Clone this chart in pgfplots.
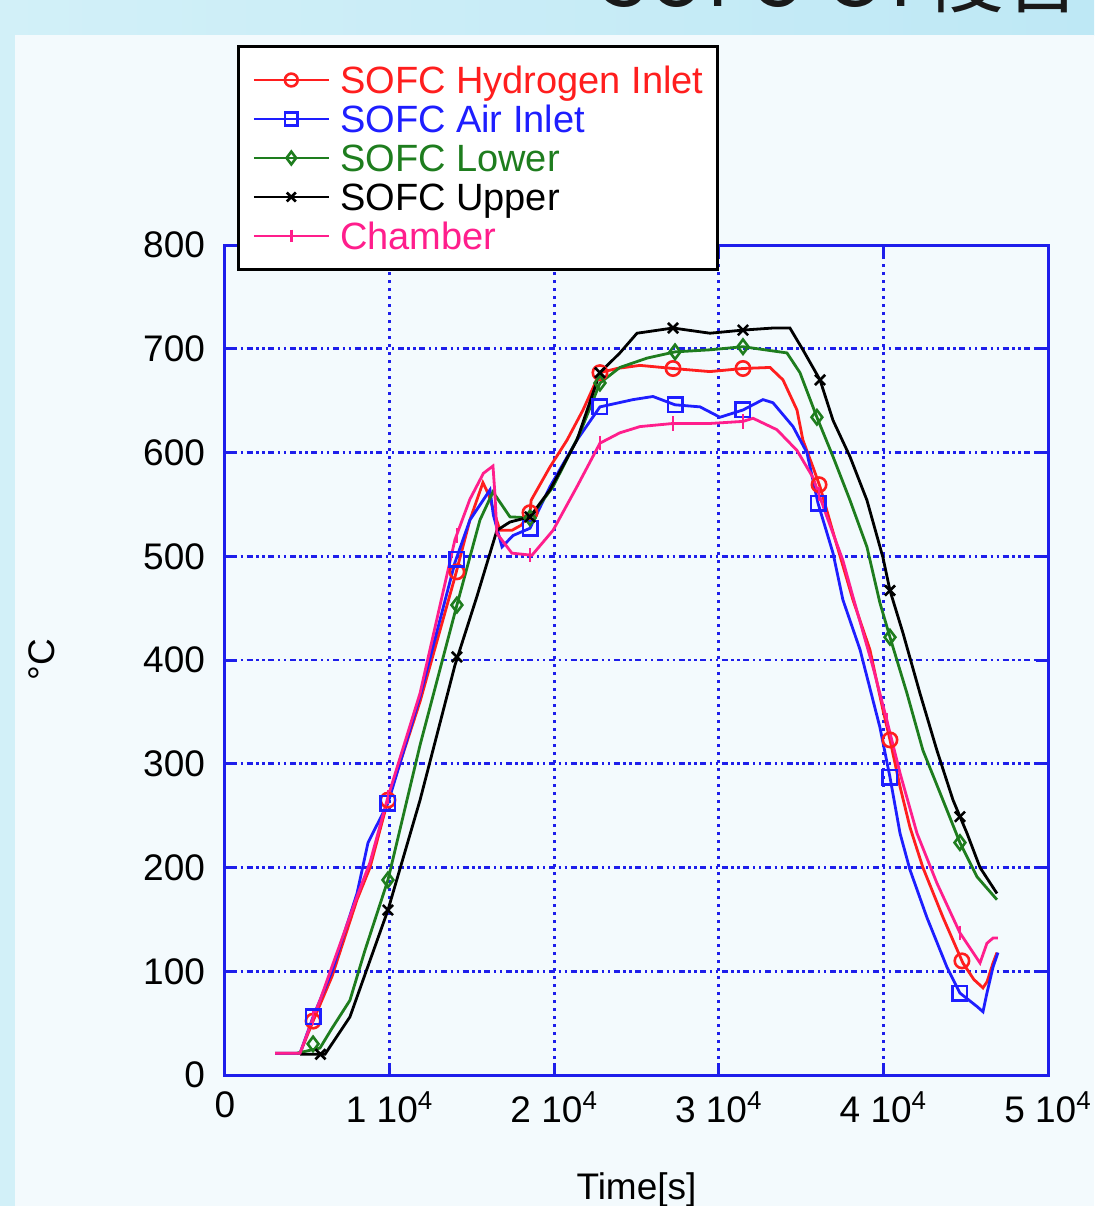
\documentclass[border=0pt]{standalone}
\usepackage{fontspec}
\setmainfont{Liberation Sans}
\newfontfamily\cjk{Noto Sans CJK JP}
\usepackage{pgfplots}
\pgfplotsset{compat=1.18}
\definecolor{axblue}{RGB}{30,30,235}
\definecolor{sred}{RGB}{255,30,30}
\definecolor{sblue}{RGB}{30,30,255}
\definecolor{sgreen}{RGB}{30,125,30}
\definecolor{spink}{RGB}{255,30,140}
\definecolor{panel}{RGB}{243,250,253}
\definecolor{bannerL}{RGB}{210,240,248}
\definecolor{bannerR}{RGB}{190,232,245}
\begin{document}
\begin{tikzpicture}
\fill[bannerL] (0,0) rectangle (547pt,-603pt);
\shade[left color=bannerL, right color=bannerR] (0,0) rectangle (547pt,-17.5pt);
\fill[panel] (7.5pt,-17.5pt) rectangle (547pt,-603pt);
\node[anchor=base west, inner sep=0pt, font=\cjk\fontsize{39.5}{40}\selectfont, text=black!90] at (300pt,-3pt) {SOFC-GT複合};
\begin{axis}[
  at={(112.5pt,-537.5pt)}, anchor=south west,
  scale only axis, width=411.5pt, height=415pt,
  xmin=0, xmax=50000, ymin=0, ymax=800,
  xtick={0,10000,20000,30000,40000,50000},
  xticklabels={0,1 10\textsuperscript{4},2 10\textsuperscript{4},3 10\textsuperscript{4},4 10\textsuperscript{4},5 10\textsuperscript{4}},
  ytick={0,100,...,800},
  scaled x ticks=false,
  /pgf/number format/assume math mode=true,
  tick align=inside,
  major tick length=6pt,
  tick style={axblue, line width=1.5pt},
  axis line style={axblue, line width=1.5pt},
  grid=major,
  major grid style={axblue, line width=1.4pt},
  every axis y grid/.append style={dash pattern=on 3pt off 1.8pt on 1.2pt off 1.8pt on 1.2pt off 1.8pt},
  every axis x grid/.append style={dash pattern=on 1.4pt off 2.6pt},
  ticklabel style={font=\fontsize{18.5}{20}\selectfont, text=black},
  yticklabel style={xshift=-6.5pt},
  xticklabel style={yshift=-5pt},
  xlabel={Time[s]}, ylabel={°C},
  label style={font=\fontsize{18.5}{20}\selectfont},
  xlabel style={at={(axis description cs:0.5,-0.1494)}, anchor=base},
  ylabel style={at={(axis description cs:-0.2224,0.5)}, anchor=center},
  legend style={at={(axis description cs:0.0146,1.2410)}, anchor=north west,
    draw=black, line width=1.5pt, fill=white, inner xsep=7pt, inner ysep=7pt,
    row sep=0pt, column sep=5pt, font=\fontsize{19}{19}\selectfont,
    nodes={inner sep=0pt, text height=16.5pt, text depth=3pt}},
  legend cell align=left,
  legend image code/.code={\draw[mark repeat=2,mark phase=2] plot coordinates {(0pt,0pt)(18.75pt,0pt)(37.5pt,0pt)};},
]
% Red: SOFC Hydrogen Inlet
\addplot[sred, line width=1.4pt, forget plot] coordinates {
(3040,21)(4560,21)(5350,52)(6500,95)(8020,169)(8810,200)(9900,265)(11850,360)
(13970,480)(14880,535)(15670,571)(16000,560)(16700,525)(17430,525)(18000,530)
(18530,542)(18600,554)(19740,586)(20780,612)(21750,641)(22780,677)(23810,681)
(25210,684)(27220,681)(29460,678)(31470,681)(33110,682)(33900,670)(34750,641)
(35110,612)(35720,586)(36150,567)(37000,520)(38150,458)(39180,410)(39970,352)
(40400,323)(41010,278)(41610,239)(42400,200)(43620,152)(44830,108)(45500,92)
(46050,84)(46300,90)(46660,108)(46900,118)};
% Blue: SOFC Air Inlet
\addplot[sblue, line width=1.4pt, forget plot] coordinates {
(3040,21)(4560,21)(5350,56)(6500,100)(8020,175)(8690,224)(9900,262)(11850,365)
(13970,494)(14880,535)(16100,564)(16300,540)(16830,509)(17500,520)(18530,527)
(19740,567)(21380,612)(22780,644)(24790,651)(26000,654)(27340,646)(28860,644)
(30070,634)(31470,641)(32680,651)(33290,648)(34510,625)(35350,600)(36030,551)
(36940,503)(37540,458)(38580,410)(39790,335)(40400,287)(41010,233)(41610,198)
(42640,152)(43860,104)(44650,79)(45690,66)(46050,61)(46290,79)(46660,104)(46960,118)};
% Green: SOFC Lower
\addplot[sgreen, line width=1.4pt, forget plot] coordinates {
(4370,21)(5770,26)(6500,45)(7590,72)(8500,120)(9900,188)(11850,318)(14090,453)
(15490,535)(16280,562)(17310,538)(18530,537)(19930,567)(21570,619)(22780,667)
(23990,682)(25640,691)(27340,697)(29460,699)(31470,702)(34140,696)(34930,677)
(35960,634)(36940,596)(37970,554)(39000,509)(39790,455)(40400,422)(41430,368)
(42400,313)(43440,272)(44650,224)(45690,191)(46900,169)};
% Black: SOFC Upper
\addplot[black, line width=1.4pt, forget plot] coordinates {
(4560,20)(6075,20)(7590,56)(8800,110)(9900,159)(11850,265)(13970,395)(15300,461)
(16520,525)(17310,533)(18530,538)(19740,564)(21380,612)(22780,677)(23990,696)
(25030,715)(27220,720)(29460,715)(31470,718)(33290,720)(34320,720)(35110,699)
(36150,670)(36940,631)(37970,596)(39000,554)(39970,499)(40400,467)(41190,426)
(42220,368)(43250,313)(44230,265)(45080,233)(45870,200)(46900,175)};
% Pink: Chamber
\addplot[spink, line width=1.4pt, forget plot] coordinates {
(3040,21)(4560,21)(5350,55)(5770,72)(8020,172)(8810,205)(9900,268)(11850,368)
(13970,516)(14880,555)(15700,580)(16280,587)(16400,560)(16520,522)(17430,503)
(18650,501)(19930,525)(21380,567)(22780,609)(23990,619)(25210,625)(27220,628)
(29460,628)(31470,630)(32080,633)(33530,622)(34750,602)(35720,576)(36570,538)
(37540,496)(38150,461)(39370,393)(40210,342)(41010,291)(42040,233)(43250,185)
(44650,137)(45870,108)(46290,127)(46660,132)(46960,132)};
% markers
\addplot[only marks, sred, mark=o, mark size=3.6pt, line width=1.3pt, mark options={fill=panel}, forget plot] coordinates {
(5350,52)(9900,265)(14090,485)(18530,542)(22780,677)(27220,681)(31470,681)(36090,569)(40400,323)(44770,110)};
\addplot[only marks, sblue, mark=square, mark size=3.6pt, line width=1.3pt, mark options={fill=panel}, forget plot] coordinates {
(5350,56)(9900,262)(14090,497)(18530,527)(22780,644)(27340,646)(31470,641)(36030,551)(40400,287)(44650,79)};
\addplot[only marks, sgreen, mark=diamond, mark size=3.6pt, line width=1.3pt, mark options={fill=panel}, forget plot] coordinates {
(5350,30)(9900,188)(14090,453)(18530,537)(22780,667)(27340,697)(31470,702)(35960,634)(40400,422)(44650,224)};
\addplot[only marks, black, mark=x, mark size=3.6pt, line width=1.3pt, forget plot] coordinates {
(5800,20)(9900,159)(14090,403)(18530,538)(22780,677)(27220,720)(31470,718)(36150,670)(40400,467)(44650,249)};
\addplot[only marks, spink, mark=|, mark size=3.6pt, line width=1.3pt, forget plot] coordinates {
(5350,55)(9900,268)(14090,520)(18530,501)(22780,609)(27220,628)(31470,630)(36090,560)(40210,342)(44650,137)};
% legend
\addlegendimage{sred, line width=1.3pt, mark=o, mark size=3.2pt, mark options={fill=white}}
\addlegendentry{\textcolor{sred}{SOFC Hydrogen Inlet}}
\addlegendimage{sblue, line width=1.3pt, mark=square, mark size=3.2pt, mark options={fill=white}}
\addlegendentry{\textcolor{sblue}{SOFC Air Inlet}}
\addlegendimage{sgreen, line width=1.3pt, mark=diamond, mark size=3.2pt, mark options={fill=white}}
\addlegendentry{\textcolor{sgreen}{SOFC Lower}}
\addlegendimage{black, line width=1.3pt, mark=x, mark size=3.2pt}
\addlegendentry{\textcolor{black}{SOFC Upper}}
\addlegendimage{spink, line width=1.3pt, mark=|, mark size=3.2pt}
\addlegendentry{\textcolor{spink}{Chamber}}
\end{axis}
\pgfresetboundingbox
\useasboundingbox (0,0) rectangle (547pt,-603pt);
\end{tikzpicture}
\end{document}
